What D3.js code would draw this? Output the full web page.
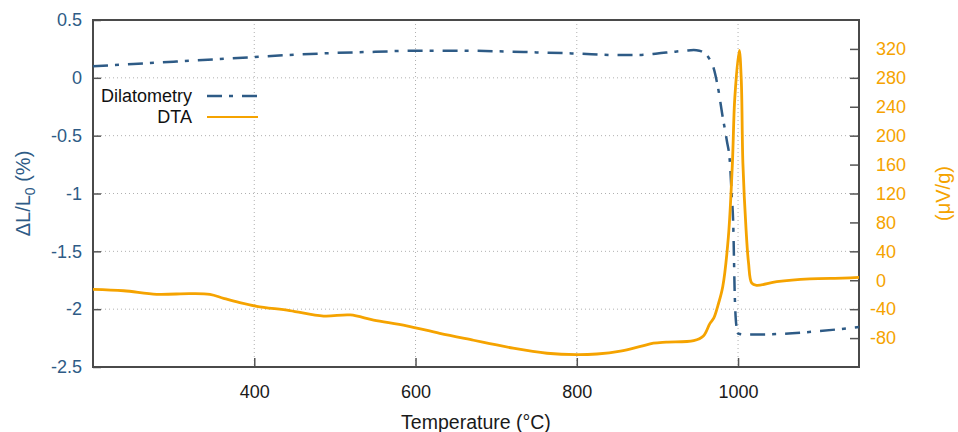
<!DOCTYPE html>
<html>
<head>
<meta charset="utf-8">
<script src="https://cdn.jsdelivr.net/npm/d3@7"></script>
<style>
  body { margin: 0; background: #fff; }
  svg text { font-family: "Liberation Sans", Arial, sans-serif; }
</style>
</head>
<body>
<div id="dis"></div>
<script>
// temperature (°C) vs dilatometry dL/L0 (%)
var dilT = [200, 250, 300, 350, 400, 450, 500, 550, 600, 650, 700, 750, 800, 850, 880, 900, 920, 935, 945, 952, 958, 963, 969, 975, 981, 986, 990, 992, 994, 996, 998, 1000, 1010, 1050, 1100, 1150];
var dilV = [0.10, 0.12, 0.14, 0.16, 0.18, 0.20, 0.215, 0.225, 0.235, 0.235, 0.23, 0.22, 0.21, 0.197, 0.198, 0.21, 0.225, 0.235, 0.24, 0.235, 0.215, 0.18, 0.10, -0.08, -0.34, -0.54, -0.74, -1.0, -1.26, -1.9, -2.15, -2.21, -2.22, -2.215, -2.19, -2.155];

// temperature (°C) vs DTA signal (µV/g)
var dtaT = [200, 238, 279, 320, 345, 362, 382, 403, 444, 486, 519, 548, 589, 630, 672, 692, 721, 763, 800, 825, 854, 879, 895, 911, 945, 957, 965, 970, 975, 981, 988, 993, 996, 1001.5, 1004, 1006, 1010, 1013, 1017, 1023, 1048, 1089, 1130, 1150];
var dtaV = [-12.6, -14.5, -19.5, -18.5, -19.5, -25, -31, -36, -42, -49.5, -48, -55, -63, -73.5, -83, -87.5, -94, -101, -103, -102, -98, -91.5, -87, -85.5, -83.5, -77, -60, -52, -35, -9, 60, 162, 253, 318, 277, 162, 69, 24, -4, -7, -2, 2, 3, 4];

var xTicks = [400, 600, 800, 1000];
var yTicks = [0.5, 0, -0.5, -1, -1.5, -2, -2.5];
var yGrid = [0, -0.5, -1, -1.5, -2];
var y2Ticks = [-80, -40, 0, 40, 80, 120, 160, 200, 240, 280, 320];

var series = [
    {name: "Dilatometry", t: dilT, v: dilV},
    {name: "DTA", t: dtaT, v: dtaV}
];

var blue = "#2e5b86";
var orange = "#f5a300";

var draw = function() {
    var width = 958, height = 432;
    var left = 93, right = 859, top = 20, bottom = 367;

    var x = d3.scaleLinear().domain([200, 1150]).range([left, right]);
    var y = d3.scaleLinear().domain([-2.5, 0.5]).range([bottom, top]);
    var y2 = d3.scaleLinear().domain([-120, 360]).range([bottom, top]);

    var svg = d3.select("#dis").append("svg")
        .attr("width", width)
        .attr("height", height);

    // grid
    var grid = svg.append("g")
        .attr("stroke", "#b0b0b0")
        .attr("stroke-width", 1)
        .attr("stroke-dasharray", "1,3");
    grid.selectAll("line.v")
        .data(xTicks)
        .join("line")
            .attr("class", "v")
            .attr("x1", d => x(d)).attr("x2", d => x(d))
            .attr("y1", top).attr("y2", bottom);
    grid.selectAll("line.h")
        .data(yGrid)
        .join("line")
            .attr("class", "h")
            .attr("x1", left).attr("x2", right)
            .attr("y1", d => y(d)).attr("y2", d => y(d));

    // axes
    var noMinus = d => String(d);
    var ax = svg.append("g")
        .attr("transform", "translate(0," + bottom + ")")
        .call(d3.axisBottom(x).tickValues(xTicks).tickFormat(noMinus)
            .tickSizeInner(-9).tickSizeOuter(0).tickPadding(18));
    var ay = svg.append("g")
        .attr("transform", "translate(" + left + ",0)")
        .call(d3.axisLeft(y).tickValues(yTicks).tickFormat(noMinus)
            .tickSizeInner(-8).tickSizeOuter(0).tickPadding(11));
    var ay2 = svg.append("g")
        .attr("transform", "translate(" + right + ",0)")
        .call(d3.axisRight(y2).tickValues(y2Ticks).tickFormat(noMinus)
            .tickSizeInner(-9).tickSizeOuter(0).tickPadding(17));

    [ax, ay, ay2].forEach(function(a) {
        a.select(".domain").remove();
        a.selectAll(".tick line").attr("stroke", "#555").attr("stroke-width", 1.5);
        a.selectAll(".tick text").attr("font-size", 18);
    });
    ax.selectAll(".tick text").attr("fill", "#1a1a1a");
    ay.selectAll(".tick text").attr("fill", blue);
    ay2.selectAll(".tick text").attr("fill", orange)
        .attr("x", d => d < 0 ? 11 : 17);

    // border
    svg.append("rect")
        .attr("x", left).attr("y", top)
        .attr("width", right - left).attr("height", bottom - top)
        .attr("fill", "none")
        .attr("stroke", "#4a4a4a")
        .attr("stroke-width", 2);

    // lines
    var dil = series[0], dta = series[1];
    var lineDil = d3.line()
        .x((d, i) => x(dil.t[i]))
        .y(d => y(d))
        .curve(d3.curveMonotoneX);
    var lineDta = d3.line()
        .x((d, i) => x(dta.t[i]))
        .y(d => y2(d))
        .curve(d3.curveCatmullRom.alpha(0.5));

    svg.append("path")
        .attr("d", lineDil(dil.v))
        .attr("fill", "none")
        .attr("stroke", blue)
        .attr("stroke-width", 2.5)
        .attr("stroke-dasharray", "15,7,4,9");
    svg.append("path")
        .attr("d", lineDta(dta.v))
        .attr("fill", "none")
        .attr("stroke", orange)
        .attr("stroke-width", 2.8)
        .attr("stroke-linejoin", "round");

    // legend
    var leg = svg.append("g");
    var rows = leg.selectAll("g")
        .data(series)
        .join("g")
        .attr("transform", (d, i) => "translate(0," + (96 + i * 21) + ")");
    rows.append("text")
        .attr("x", 192).attr("y", 6)
        .attr("text-anchor", "end")
        .attr("font-size", 18)
        .attr("fill", "#111")
        .text(d => d.name);
    rows.append("line")
        .attr("x1", 207).attr("x2", 258)
        .attr("stroke", (d, i) => i ? orange : blue)
        .attr("stroke-width", (d, i) => i ? 2 : 2.5)
        .attr("stroke-dasharray", (d, i) => i ? null : "15,7,4,9");

    // axis titles
    svg.append("text")
        .attr("x", (left + right) / 2).attr("y", 429)
        .attr("text-anchor", "middle")
        .attr("font-size", 19.5)
        .attr("fill", "#1a1a1a")
        .text("Temperature (°C)");

    var yl = svg.append("text")
        .attr("transform", "translate(30," + ((top + bottom) / 2) + ") rotate(-90)")
        .attr("text-anchor", "middle")
        .attr("font-size", 20)
        .attr("fill", blue);
    yl.append("tspan").text("ΔL/L");
    yl.append("tspan").attr("font-size", 14).attr("dy", 5).text("0");
    yl.append("tspan").attr("dy", -5).text(" (%)");

    svg.append("text")
        .attr("transform", "translate(950," + ((top + bottom) / 2) + ") rotate(-90)")
        .attr("text-anchor", "middle")
        .attr("font-size", 20)
        .attr("fill", orange)
        .text("(μV/g)");
};

window.onload = function() {
    draw();
};
</script>
</body>
</html>
